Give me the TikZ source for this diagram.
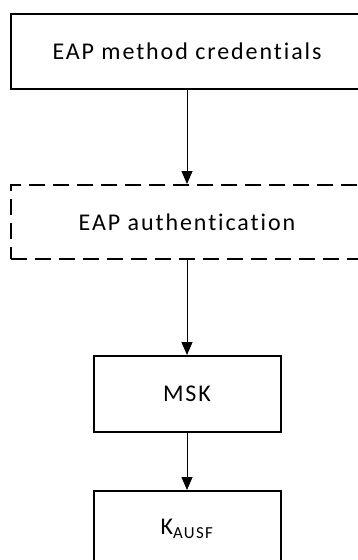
\documentclass[tikz,border=0pt]{standalone}
\usepackage{fontspec}
\setmainfont{Carlito}[LetterSpace=8, Ligatures={NoCommon}]
\usetikzlibrary{arrows.meta}

\tikzset{
  keybox/.style={draw, line width=2pt, minimum width=187pt, minimum height=76pt,
    inner sep=0pt, font=\fontsize{24}{28}\selectfont},
  widebox/.style={keybox, minimum width=352pt, minimum height=75pt},
  flow/.style={line width=1pt, -{Triangle[length=13pt,width=11pt]}}
}

\begin{document}
\begin{tikzpicture}[x=1pt,y=-1pt]
				\useasboundingbox (0,0) rectangle (357,560);
				
				% boxes
				\node[widebox] (cred) at (187,51.5) {EAP method credentials};
				\node[widebox, dash pattern=on 16pt off 8pt, minimum height=74pt] (eap) at (187,222) {EAP authentication};
				\node[keybox] (msk) at (187,394) {MSK};
				\node[keybox] (kausf) at (187,529) {K\textsubscript{AUSF}};
				
				% arrows
				\draw[flow] (cred) -- (eap);
				\draw[flow] (eap) -- (msk);
				\draw[flow] (msk) -- (kausf);
				
			\end{tikzpicture}
\end{document}
